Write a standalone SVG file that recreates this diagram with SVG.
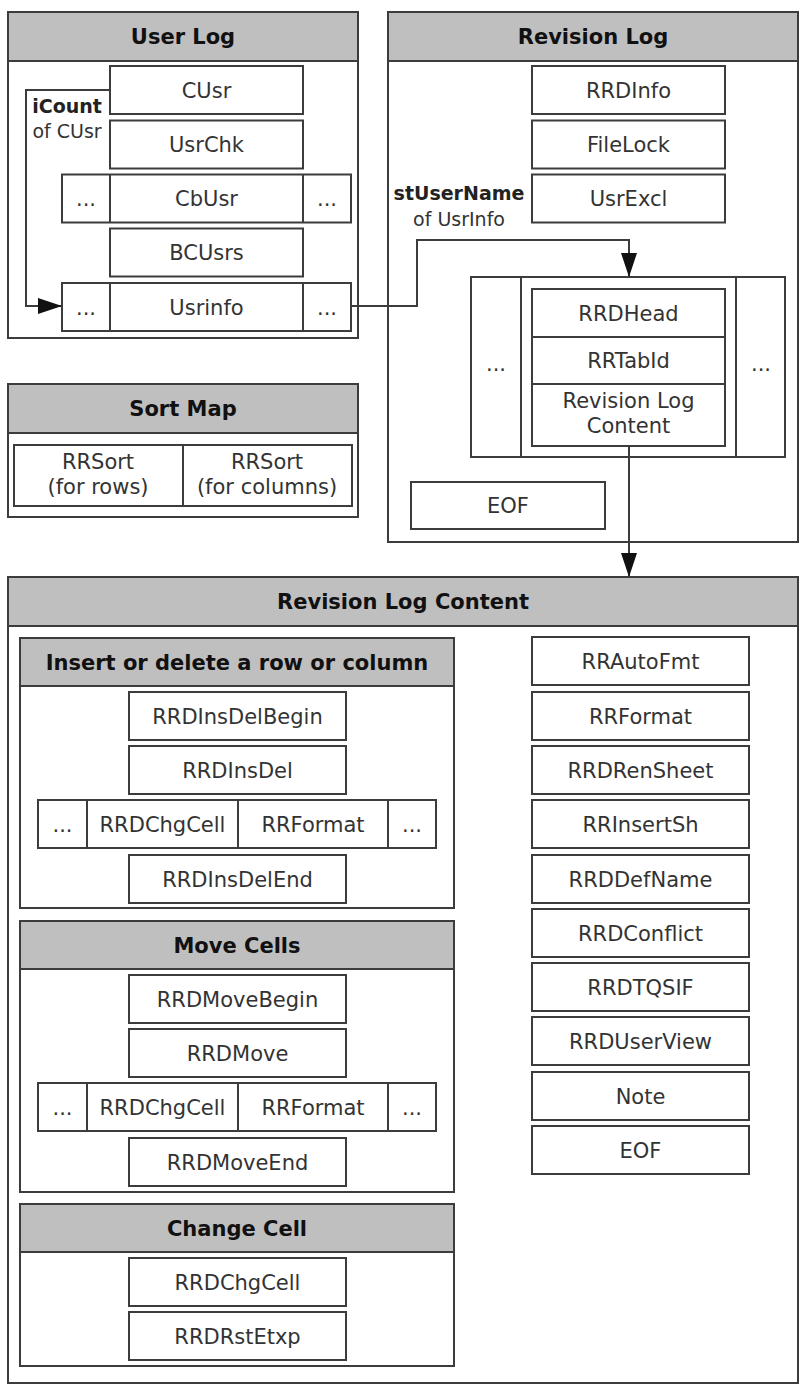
<svg xmlns="http://www.w3.org/2000/svg" width="801" height="1385" viewBox="0 0 801 1385">
<style>
.box{fill:#fff;stroke:#3c3c3c;stroke-width:2}
.hdr{fill:#bfbfbf;stroke:#3c3c3c;stroke-width:2}
.ln{fill:none;stroke:#3c3c3c;stroke-width:2}
.t{font-family:"DejaVu Sans",Verdana,sans-serif;font-size:21px;fill:#333;text-anchor:middle}
.h{font-family:"DejaVu Sans",Verdana,sans-serif;font-size:21px;font-weight:bold;fill:#111;text-anchor:middle}
.lb{font-family:"DejaVu Sans",Verdana,sans-serif;font-size:19px;font-weight:bold;fill:#222;text-anchor:middle}
.lr{font-family:"DejaVu Sans",Verdana,sans-serif;font-size:19px;fill:#333;text-anchor:middle}
</style>
<defs>
<marker id="arr" markerUnits="userSpaceOnUse" markerWidth="24" markerHeight="16" refX="24" refY="8" orient="auto">
<path d="M0,0 L24,8 L0,16 z" fill="#111"/>
</marker>
</defs>
<rect width="801" height="1385" fill="#fff"/>

<g id="userlog">
<rect class="box" x="8" y="12" width="350" height="326"/>
<rect class="hdr" x="8" y="12" width="350" height="49"/>
<text class="h" x="183" y="44">User Log</text>
<g id="cusr"><rect class="box" x="110" y="66" width="193" height="48"/><text class="t" x="206.5" y="97.6">CUsr</text></g>
<g id="usrchk"><rect class="box" x="110" y="120.5" width="193" height="48"/><text class="t" x="206.5" y="152">UsrChk</text></g>
<g id="cbusr"><rect class="box" x="62" y="174.5" width="289" height="48"/><line class="ln" x1="110" y1="174.5" x2="110" y2="222.5"/><line class="ln" x1="303" y1="174.5" x2="303" y2="222.5"/>
<text class="t" x="86" y="206">...</text><text class="t" x="206.5" y="206">CbUsr</text><text class="t" x="327" y="206">...</text></g>
<g id="bcusrs"><rect class="box" x="110" y="228.5" width="193" height="48"/><text class="t" x="206.5" y="260">BCUsrs</text></g>
<g id="usrinfo"><rect class="box" x="62" y="283" width="289" height="48"/><line class="ln" x1="110" y1="283" x2="110" y2="331"/><line class="ln" x1="303" y1="283" x2="303" y2="331"/>
<text class="t" x="86" y="314.5">...</text><text class="t" x="206.5" y="314.5">Usrinfo</text><text class="t" x="327" y="314.5">...</text></g>
<text class="lb" x="67" y="113">iCount</text>
<text class="lr" x="67" y="138">of CUsr</text>
</g>

<g id="revisionlog">
<rect class="box" x="388" y="12" width="410" height="530"/>
<rect class="hdr" x="388" y="12" width="410" height="49"/>
<text class="h" x="593" y="44">Revision Log</text>
<g id="rrdinfo"><rect class="box" x="532" y="66" width="193" height="48"/><text class="t" x="628.5" y="97.6">RRDInfo</text></g>
<g id="filelock"><rect class="box" x="532" y="120.5" width="193" height="48"/><text class="t" x="628.5" y="152">FileLock</text></g>
<g id="usrexcl"><rect class="box" x="532" y="174.5" width="193" height="48"/><text class="t" x="628.5" y="206">UsrExcl</text></g>
<text class="lb" x="459" y="200">stUserName</text>
<text class="lr" x="459" y="226">of UsrInfo</text>
<g id="revrepeat">
<rect class="box" x="471" y="277" width="314" height="180"/>
<line class="ln" x1="521" y1="277" x2="521" y2="457"/>
<line class="ln" x1="736" y1="277" x2="736" y2="457"/>
<text class="t" x="496" y="371">...</text>
<text class="t" x="761" y="371">...</text>
<rect class="box" x="532" y="289" width="193" height="48"/><text class="t" x="628.5" y="320.5">RRDHead</text>
<rect class="box" x="532" y="337" width="193" height="47"/><text class="t" x="628.5" y="368">RRTabId</text>
<rect class="box" x="532" y="384" width="193" height="62"/><text class="t" x="628.5" y="408">Revision Log</text><text class="t" x="628.5" y="433">Content</text>
</g>
<g id="eof1"><rect class="box" x="411" y="482" width="194" height="47"/><text class="t" x="508" y="513">EOF</text></g>
</g>

<g id="sortmap">
<rect class="box" x="8" y="384" width="350" height="133"/>
<rect class="hdr" x="8" y="384" width="350" height="49"/>
<text class="h" x="183" y="416">Sort Map</text>
<rect class="box" x="14" y="445" width="338" height="61"/>
<line class="ln" x1="183" y1="445" x2="183" y2="506"/>
<text class="t" x="98" y="469">RRSort</text><text class="t" x="98" y="494">(for rows)</text>
<text class="t" x="267" y="469">RRSort</text><text class="t" x="267" y="494">(for columns)</text>
</g>

<g id="revisionlogcontent">
<rect class="box" x="8" y="577" width="790" height="806"/>
<rect class="hdr" x="8" y="577" width="790" height="49"/>
<text class="h" x="403" y="609">Revision Log Content</text>

<g id="insdel">
<rect class="box" x="20" y="638" width="434" height="270"/>
<rect class="hdr" x="20" y="638" width="434" height="48"/>
<text class="h" x="237" y="669.5">Insert or delete a row or column</text>
<rect class="box" x="129" y="692" width="217" height="48"/><text class="t" x="237.5" y="723.5">RRDInsDelBegin</text>
<rect class="box" x="129" y="746" width="217" height="48"/><text class="t" x="237.5" y="777.5">RRDInsDel</text>
<rect class="box" x="38" y="800" width="398" height="48"/>
<line class="ln" x1="87" y1="800" x2="87" y2="848"/><line class="ln" x1="238" y1="800" x2="238" y2="848"/><line class="ln" x1="388" y1="800" x2="388" y2="848"/>
<text class="t" x="62.5" y="831.5">...</text><text class="t" x="162.5" y="831.5">RRDChgCell</text><text class="t" x="313" y="831.5">RRFormat</text><text class="t" x="412" y="831.5">...</text>
<rect class="box" x="129" y="855" width="217" height="48"/><text class="t" x="237.5" y="886.5">RRDInsDelEnd</text>
</g>

<g id="movecells">
<rect class="box" x="20" y="921" width="434" height="271"/>
<rect class="hdr" x="20" y="921" width="434" height="48"/>
<text class="h" x="237" y="952.5">Move Cells</text>
<rect class="box" x="129" y="975" width="217" height="48"/><text class="t" x="237.5" y="1006.5">RRDMoveBegin</text>
<rect class="box" x="129" y="1029" width="217" height="48"/><text class="t" x="237.5" y="1060.5">RRDMove</text>
<rect class="box" x="38" y="1083" width="398" height="48"/>
<line class="ln" x1="87" y1="1083" x2="87" y2="1131"/><line class="ln" x1="238" y1="1083" x2="238" y2="1131"/><line class="ln" x1="388" y1="1083" x2="388" y2="1131"/>
<text class="t" x="62.5" y="1114.5">...</text><text class="t" x="162.5" y="1114.5">RRDChgCell</text><text class="t" x="313" y="1114.5">RRFormat</text><text class="t" x="412" y="1114.5">...</text>
<rect class="box" x="129" y="1138" width="217" height="48"/><text class="t" x="237.5" y="1169.5">RRDMoveEnd</text>
</g>

<g id="changecell">
<rect class="box" x="20" y="1204" width="434" height="162"/>
<rect class="hdr" x="20" y="1204" width="434" height="48"/>
<text class="h" x="237" y="1235.5">Change Cell</text>
<rect class="box" x="129" y="1258" width="217" height="48"/><text class="t" x="237.5" y="1289.5">RRDChgCell</text>
<rect class="box" x="129" y="1312" width="217" height="48"/><text class="t" x="237.5" y="1343.5">RRDRstEtxp</text>
</g>

<g id="rightcol">
<g id="rrautofmt"><rect class="box" x="532" y="637" width="217" height="48"/><text class="t" x="640.5" y="668.6">RRAutoFmt</text></g>
<g id="rrformat"><rect class="box" x="532" y="692" width="217" height="48"/><text class="t" x="640.5" y="723.6">RRFormat</text></g>
<g id="rrdrensheet"><rect class="box" x="532" y="746" width="217" height="48"/><text class="t" x="640.5" y="777.6">RRDRenSheet</text></g>
<g id="rrinsertsh"><rect class="box" x="532" y="800" width="217" height="48"/><text class="t" x="640.5" y="831.6">RRInsertSh</text></g>
<g id="rrddefname"><rect class="box" x="532" y="855" width="217" height="48"/><text class="t" x="640.5" y="886.6">RRDDefName</text></g>
<g id="rrdconflict"><rect class="box" x="532" y="909" width="217" height="48"/><text class="t" x="640.5" y="940.6">RRDConflict</text></g>
<g id="rrdtqsif"><rect class="box" x="532" y="963" width="217" height="48"/><text class="t" x="640.5" y="994.6">RRDTQSIF</text></g>
<g id="rrduserview"><rect class="box" x="532" y="1017" width="217" height="48"/><text class="t" x="640.5" y="1048.6">RRDUserView</text></g>
<g id="note"><rect class="box" x="532" y="1072" width="217" height="48"/><text class="t" x="640.5" y="1103.6">Note</text></g>
<g id="eof2"><rect class="box" x="532" y="1126" width="217" height="48"/><text class="t" x="640.5" y="1157.6">EOF</text></g>
</g>
</g>

<g id="connectors">
<path class="ln" d="M110,90 H26 V306 H62" marker-end="url(#arr)"/>
<path class="ln" d="M351,306 H417 V240 H629 V277" marker-end="url(#arr)"/>
<path class="ln" d="M629,446 V577" marker-end="url(#arr)"/>
</g>
</svg>
